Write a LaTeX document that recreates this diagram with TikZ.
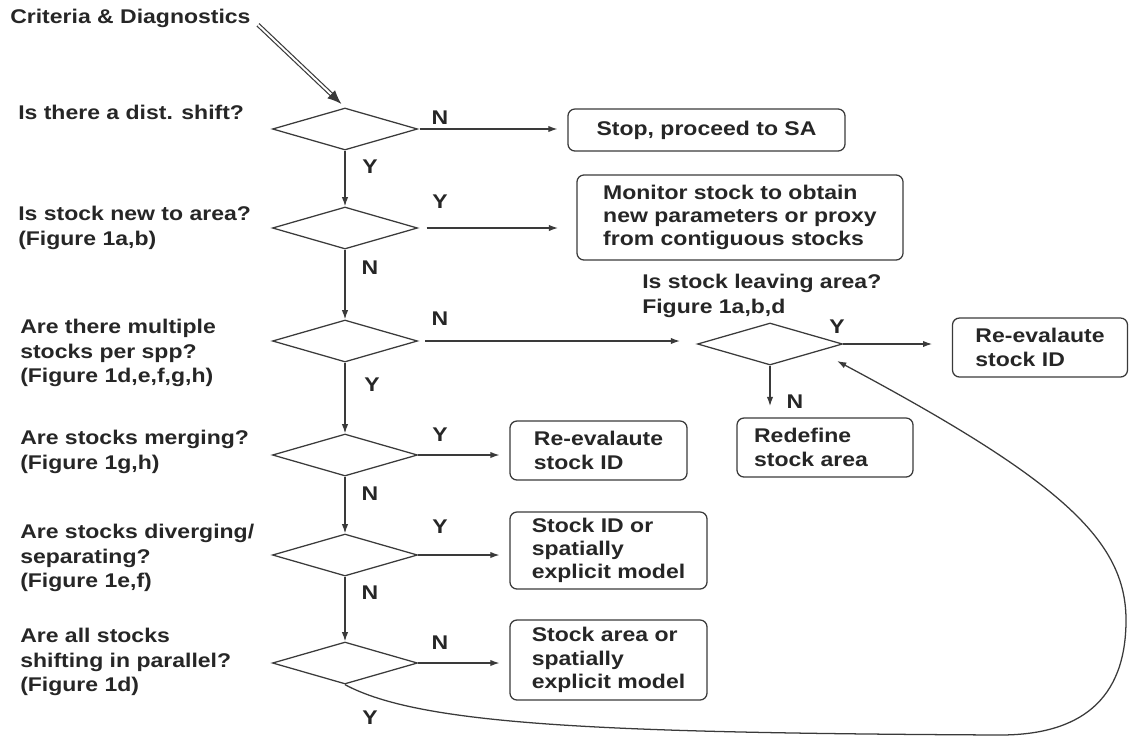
\documentclass[tikz,border=0pt]{standalone}
\usepackage{fontspec}
\setmainfont{Liberation Sans}[FakeStretch=1.16]
\usepackage{tikz}
\usetikzlibrary{calc, arrows.meta, shapes.geometric}
\definecolor{linegray}{HTML}{3A3A3A}
\definecolor{textgray}{HTML}{262626}
\tikzstyle{decision} = [diamond, draw=linegray, line width=0.9pt, minimum width=3.625cm, minimum height=1.05cm, inner sep=0pt]
\tikzstyle{outcome} = [rectangle, rounded corners=5pt, draw=linegray, line width=0.9pt, align=left, inner sep=0pt, font=\bfseries\fontsize{14.1}{16.5}\selectfont]
\tikzstyle{question} = [anchor=west, align=left, inner sep=0pt]
\tikzstyle{answer} = [inner sep=0pt]
\tikzstyle{flow} = [draw=linegray, line width=0.9pt, -{Latex[length=6.5pt, width=4.5pt]}]
\tikzstyle{dblline} = [draw=linegray, double=white, double distance=1.4pt, line width=0.85pt, shorten <=7pt, shorten >=10pt]

\begin{document}
\begin{tikzpicture}[x=0.025cm, y=-0.025cm, font=\bfseries\fontsize{14.1}{17.4}\selectfont, text=textgray]

        \useasboundingbox (0,0) rectangle (1129,737);

        \node (title) [question] at (10,18) {Criteria \& Diagnostics};

        \node (q1) [question] at (18,112) {Is there a dist. shift?};
        \node (q2) [question] at (18,228) {Is stock new to area?\\(Figure 1a,b)};
        \node (q3) [question] at (20,353) {Are there multiple\\stocks per spp?\\(Figure 1d,e,f,g,h)};
        \node (q4) [question] at (20,452) {Are stocks merging?\\(Figure 1g,h)};
        \node (q5) [question] at (20,558) {Are stocks diverging/\\separating?\\(Figure 1e,f)};
        \node (q6) [question] at (20,662) {Are all stocks\\shifting in parallel?\\(Figure 1d)};
        \node (q7) [question] at (642,296) {Is stock leaving area?\\Figure 1a,b,d};

        \node (d1) [decision] at (345,129) {};
        \node (d2) [decision] at (345,228) {};
        \node (d3) [decision] at (345,341) {};
        \node (d4) [decision] at (345,455) {};
        \node (d5) [decision] at (345,555) {};
        \node (d6) [decision] at (345,663) {};
        \node (d7) [decision] at (770,344) {};

        \node (stop) [outcome, align=center, minimum width=6.925cm, minimum height=1.05cm] at (706.5,130) {Stop, proceed to SA};
        \node (monitor) [outcome, minimum width=8.15cm, minimum height=2.125cm] at (740,217.5) {Monitor stock to obtain\\new parameters or proxy\\from contiguous stocks};
        \node (reevalleave) [outcome, minimum width=4.375cm, minimum height=1.475cm] at (1040,347.5) {Re-evalaute\\stock ID};
        \node (redefine) [outcome, minimum width=4.4cm, minimum height=1.475cm] at (825,447.5) {Redefine\\stock area\hspace*{0.7cm}};
        \node (reevalmerge) [outcome, minimum width=4.425cm, minimum height=1.475cm] at (598.5,450.5) {Re-evalaute\\stock ID};
        \node (stockid) [outcome, minimum width=4.925cm, minimum height=1.925cm] at (608.5,550.5) {Stock ID or\\spatially\\explicit model};
        \node (stockarea) [outcome, minimum width=4.925cm, minimum height=2cm] at (608.5,660) {Stock area or\\spatially\\explicit model};

        \node (a1n) [answer] at (440,118) {N};
        \node (a1y) [answer] at (370,167) {Y};
        \node (a2y) [answer] at (440,202) {Y};
        \node (a2n) [answer] at (370,268) {N};
        \node (a3n) [answer] at (440,319) {N};
        \node (a3y) [answer] at (372,385) {Y};
        \node (a4y) [answer] at (440,435) {Y};
        \node (a4n) [answer] at (370,494) {N};
        \node (a5y) [answer] at (440,527) {Y};
        \node (a5n) [answer] at (370,593) {N};
        \node (a6n) [answer] at (440,643) {N};
        \node (a6y) [answer] at (370,718) {Y};
        \node (a7y) [answer] at (837,327) {Y};
        \node (a7n) [answer] at (795,402) {N};

        \draw[dblline] (title.east) -- (d1.north);
        \draw[flow, -{Latex[length=10pt, width=8pt]}] ($(d1.north)!12.5pt!(title.east)$) -- ($(d1.north)!3.5pt!(title.east)$);

        \draw[flow] (d1.south) -- (d2.north);
        \draw[flow] (d2.south) -- (d3.north);
        \draw[flow] (d3.south) -- (d4.north);
        \draw[flow] (d4.south) -- (d5.north);
        \draw[flow] (d5.south) -- (d6.north);

        \draw[flow, shorten <=1pt, shorten >=7pt] (d1.east) -- (d1.east -| stop.west);
        \draw[flow, shorten <=6pt, shorten >=13pt] (d2.east) -- (d2.east -| monitor.west);
        \draw[flow, shorten <=5pt, shorten >=12pt] (d3.east) -- (d3.east -| d7.west);
        \draw[flow, shorten >=7pt] (d4.east) -- (d4.east -| reevalmerge.west);
        \draw[flow, shorten >=7pt] (d5.east) -- (d5.east -| stockid.west);
        \draw[flow, shorten >=7pt] (d6.east) -- (d6.east -| stockarea.west);
        \draw[flow, shorten >=14pt] (d7.east) -- (d7.east -| reevalleave.west);
        \draw[flow, shorten >=8pt] (d7.south) -- (d7.south |- redefine.north);

        \coordinate (loopend) at ($(d7.east)+(-6,17)$);
        \draw[flow] (d6.south) .. controls (420,725) and (600,733) .. (1000,735) .. controls (1080,735) and (1126,700) .. (1126,620) .. controls (1126,540) and (1060,480) .. (loopend);

    \end{tikzpicture}
\end{document}
